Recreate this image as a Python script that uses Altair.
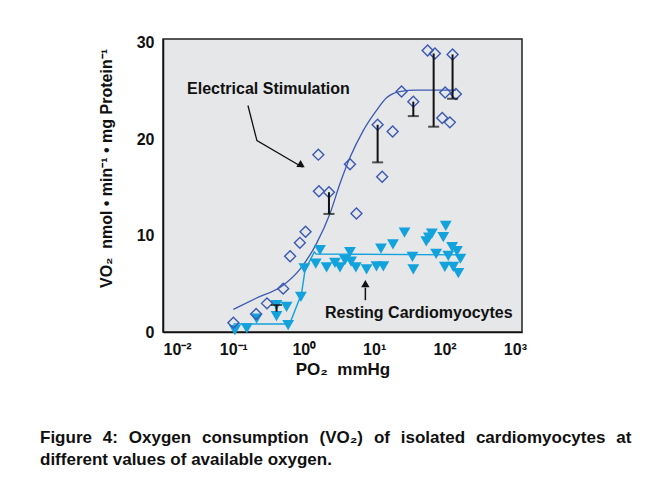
import altair as alt
import pandas as pd

FONT = "'Liberation Sans Narrow', 'Arial Narrow', 'Liberation Sans', Arial, sans-serif"
NB = "\u00a0"

# Electrical stimulation (diamonds)
es_x = [0.10, 0.21, 0.30, 0.51, 0.64, 0.88, 1.06, 1.61, 1.64, 2.28, 4.53, 5.6, 11.2, 13.0,
        18.3, 24.5, 36, 57.5, 73, 102, 92.7, 119, 130, 145]
es_y = [0.96, 1.86, 2.97, 4.5, 7.86, 9.25, 10.4, 18.4, 14.6, 14.5, 17.4, 12.3, 21.5, 16.1,
        20.8, 24.95, 23.9, 29.2, 28.9, 24.85, 22.2, 21.75, 28.8, 24.7]

# Electrical stimulation fitted curve
es_fit_x = [0.1, 0.21, 0.51, 0.88, 1.52, 2.36, 3.27, 4.53, 7.0, 10.8, 15, 23, 40, 119, 145]
es_fit_y = [2.35, 3.5, 4.86, 6.5, 9.2, 12.3, 15.4, 18.1, 20.9, 23.0, 24.3, 24.95, 25.1, 25.1, 25.1]

# Resting cardiomyocytes (filled down-triangles)
rest_x = [0.105, 0.155, 0.214, 0.41, 0.41, 0.57, 0.60, 0.91, 1.02,
          1.48, 1.70, 2.11, 2.77, 3.27, 3.85, 4.53, 4.7, 5.5, 7.8, 10.8, 12.5, 13.5,
          18.5, 27, 35, 36, 55, 60, 66, 76, 96, 104, 101, 113, 128, 133, 157, 168, 150]
rest_y = [0.2, 0.38, 1.4, 2.8, 1.65, 2.6, 0.72, 3.65, 6.6,
          7.1, 8.5, 6.7, 7.17, 6.7, 7.45, 8.3, 7.3, 6.7, 6.5, 6.8, 8.65, 6.8,
          9.1, 10.3, 7.8, 6.5, 9.4, 9.8, 10.2, 8.1, 9.85, 11.0, 6.75, 7.9, 8.8, 6.75, 6.1, 7.6, 8.4]

# Resting fitted line
rest_fit_x = [0.1, 0.63, 0.93, 1.04, 1.41, 1.5, 169]
rest_fit_y = [0.83, 0.83, 4.0, 6.4, 8.3, 8.1, 8.0]

# Error bars (one-sided, cap at the end value)
err_x = [0.41, 2.28, 11.2, 36, 70, 130]
err_from = [2.1, 14.5, 21.5, 23.9, 28.9, 28.8]
err_to = [2.8, 12.25, 17.6, 22.4, 21.3, 24.2]

# Axis tick labels
x_ticks = [0.01, 0.1, 1, 10, 100, 1000]
x_tick_labels = ["10⁻²", "10⁻¹", "10⁰", "10¹", "10²", "10³"]
y_ticks = [0, 10, 20, 30]

# Annotations
lab_es = "Electrical Stimulation"
lab_es_pos = (0.022, 25.2)
arrow_es_x = [0.161, 0.216, 0.96]
arrow_es_y = [23.5, 19.85, 17.1]
arrow_es_head = (0.9, 17.35)
lab_rest = "Resting Cardiomyocytes"
lab_rest_pos = (2.0, 1.96)
arrow_rest_x = [7.5, 7.5]
arrow_rest_y = [3.3, 4.6]
arrow_rest_head = (7.5, 4.9)

caption_words_1 = ["Figure", "4:", "Oxygen", "consumption", "(VO₂)", "of", "isolated",
                   "cardiomyocytes", "at"]
caption_line_2 = "different values of available oxygen."
caption = (" " + NB + "\u200a").join(caption_words_1) + "\n" + caption_line_2

label_expr = "[" + ",".join("'%s'" % s for s in x_tick_labels) + "][round(log(datum.value)/LN10)+2]"

xscale = alt.Scale(type="log", domain=[0.01, 1260], nice=False)
yscale = alt.Scale(domain=[0, 30.4], nice=False)

X = alt.X("x:Q", scale=xscale,
          axis=alt.Axis(values=x_ticks, labelExpr=label_expr, ticks=False, grid=False,
                        labelPadding=9, labelFontSize=16, labelFont=FONT, labelFontWeight="bold",
                        labelColor="#111", domainColor="#111", domainWidth=1.5,
                        title="PO₂" + NB + " mmHg", titleFontSize=17, titleFont=FONT,
                        titleFontWeight="bold", titleColor="#111", titlePadding=4))
Y = alt.Y("y:Q", scale=yscale,
          axis=alt.Axis(values=y_ticks, ticks=False, grid=False, labelPadding=9,
                        labelFontSize=16, labelFont=FONT, labelFontWeight="bold",
                        labelColor="#111", domainColor="#111", domainWidth=1.5,
                        title="VO₂" + NB + " nmol • min⁻¹ • mg Protein⁻¹", titleFontSize=16,
                        titleFont=FONT, titleFontWeight="bold", titleColor="#111",
                        titleX=-57, titleY=129, titleAngle=-90, titleAlign="center",
                        titleBaseline="middle"))

es_df = pd.DataFrame({"x": es_x, "y": es_y})
es_fit_df = pd.DataFrame({"x": es_fit_x, "y": es_fit_y})
rest_df = pd.DataFrame({"x": rest_x, "y": rest_y})
rest_fit_df = pd.DataFrame({"x": rest_fit_x, "y": rest_fit_y})
err_df = pd.DataFrame({"x": err_x, "y": err_from, "y2": err_to})

BLUE = "#3b59b3"
CYAN = "#12a2dc"

es_fit = alt.Chart(es_fit_df).mark_line(color=BLUE, strokeWidth=1.3, interpolate="monotone").encode(x=X, y=Y)
rest_fit = alt.Chart(rest_fit_df).mark_line(color=CYAN, strokeWidth=1.4).encode(x=X, y=Y)
rest_pts = alt.Chart(rest_df).mark_point(shape="triangle-down", filled=True, color=CYAN,
                                         size=140, opacity=1).encode(x=X, y=Y)
es_pts = alt.Chart(es_df).mark_point(shape="diamond", filled=False, color=BLUE,
                                     size=120, strokeWidth=1.4, opacity=1).encode(x=X, y=Y)
err_rule = alt.Chart(err_df).mark_rule(color="#111", strokeWidth=2).encode(x=X, y=Y, y2="y2:Q")
err_cap = alt.Chart(err_df).mark_tick(color="#111", orient="horizontal", size=11,
                                      thickness=2).encode(x=X, y=alt.Y("y2:Q", scale=yscale))

ann_df = pd.DataFrame({"x": [lab_es_pos[0], lab_rest_pos[0]], "y": [lab_es_pos[1], lab_rest_pos[1]],
                       "t": [lab_es, lab_rest]})
ann = alt.Chart(ann_df).mark_text(align="left", baseline="middle", font=FONT, fontSize=16,
                                  fontWeight="bold", color="#111").encode(x=X, y=Y, text="t:N")

arr1 = alt.Chart(pd.DataFrame({"x": arrow_es_x, "y": arrow_es_y, "o": [0, 1, 2]})).mark_line(
    color="#111", strokeWidth=1.3).encode(x=X, y=Y, order="o:Q")
arr2 = alt.Chart(pd.DataFrame({"x": arrow_rest_x, "y": arrow_rest_y})).mark_line(
    color="#111", strokeWidth=1.5).encode(x=X, y=Y)
heads = alt.Chart(pd.DataFrame({"x": [arrow_es_head[0], arrow_rest_head[0]],
                                "y": [arrow_es_head[1], arrow_rest_head[1]],
                                "a": [121, 0]})).mark_point(
    shape="triangle", filled=True, color="#111", size=70, opacity=1).encode(
    x=X, y=Y, angle=alt.Angle("a:Q", scale=None))

cap = alt.Chart(pd.DataFrame({"t": [caption]})).mark_text(
    align="left", baseline="middle", font=FONT, fontSize=17, fontWeight="bold", color="#111",
    lineBreak="\n", lineHeight=22).encode(x=alt.value(-123), y=alt.value(399), text="t:N")

chart = alt.layer(es_fit, rest_fit, rest_pts, es_pts, err_rule, err_cap, arr1, arr2, heads, ann, cap).properties(
    width=359, height=293,
    autosize=alt.AutoSizeParams(type="none"),
    padding={"left": 155, "top": 31, "right": 110, "bottom": 140},
    background="white",
).configure_view(fill="#e6e7e9", stroke="#222", strokeWidth=1.5)

chart.save("out.html", embed_options={"renderer": "svg", "actions": False})
